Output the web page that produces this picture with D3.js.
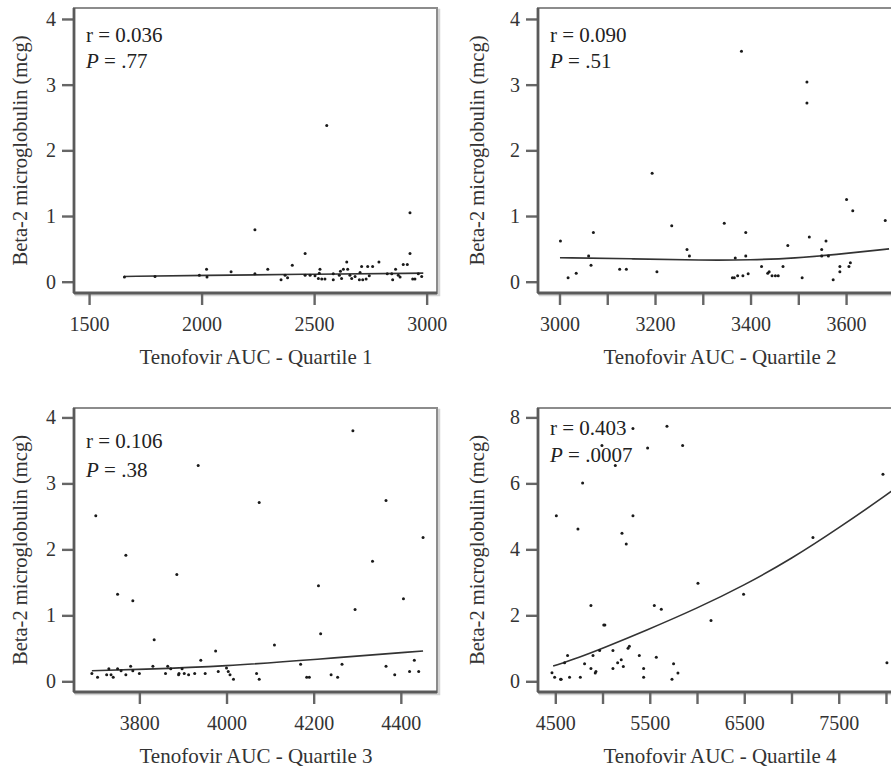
<!DOCTYPE html>
<html>
<head>
<meta charset="utf-8">
<script src="https://cdn.jsdelivr.net/npm/d3@7"></script>
<style>
  body { margin: 0; background: #fff; }
  svg { display: block; }
</style>
</head>
<body>
<div id="chart"></div>
<script>
// Quartile 1
var q1Auc = [1657,1793,1990,2022,2024,2131,2237,2237,2294,2353,2371,2382,2403,2460,2460,2482,2504,
  2519,2523,2526,2534,2548,2556,2585,2585,2612,2617,2622,2630,2645,2649,2659,2667,2682,2701,2704,
  2711,2716,2731,2738,2745,2760,2788,2825,2845,2849,2862,2874,2882,2896,2914,2926,2926,2938,2948,2963,2978];
var q1B2m = [0.07,0.08,0.10,0.19,0.07,0.15,0.79,0.12,0.19,0.03,0.10,0.06,0.25,0.43,0.10,0.10,0.09,
  0.05,0.13,0.19,0.04,0.04,2.38,0.12,0.03,0.10,0.16,0.05,0.19,0.30,0.19,0.10,0.05,0.08,0.03,0.14,
  0.23,0.03,0.04,0.23,0.09,0.23,0.30,0.12,0.12,0.03,0.19,0.10,0.07,0.26,0.26,1.05,0.43,0.04,0.04,0.12,0.08];
var q1FitX = [1655,2000,2500,2985];
var q1FitY = [0.08,0.095,0.115,0.13];

// Quartile 2
var q2Auc = [3002,3018,3035,3061,3066,3071,3126,3140,3194,3204,3235,3267,3272,3345,3362,3366,3368,3373,
  3381,3384,3390,3390,3395,3423,3436,3439,3445,3452,3458,3468,3478,3508,3518,3518,3523,3549,3549,3558,
  3563,3573,3587,3587,3601,3606,3609,3614,3682];
var q2B2m = [0.62,0.06,0.13,0.39,0.25,0.75,0.19,0.19,1.65,0.15,0.85,0.49,0.39,0.89,0.06,0.06,0.36,0.09,
  3.51,0.09,0.75,0.39,0.12,0.23,0.13,0.15,0.09,0.09,0.09,0.23,0.55,0.06,3.04,2.72,0.68,0.49,0.39,0.62,
  0.39,0.03,0.23,0.15,1.25,0.23,0.29,1.08,0.93];
var q2FitX = [3001,3150,3300,3400,3496,3574,3690];
var q2FitY = [0.365,0.35,0.325,0.33,0.36,0.41,0.50];

// Quartile 3
var q3Auc = [3691,3700,3704,3725,3730,3735,3740,3750,3750,3758,3769,3769,3780,3785,3785,3800,3831,3834,
  3860,3865,3872,3886,3890,3891,3898,3903,3913,3927,3935,3941,3951,3975,3981,4000,4004,4008,4016,4069,
  4075,4075,4110,4170,4184,4190,4211,4216,4240,4255,4265,4290,4295,4335,4366,4366,4386,4406,4420,4431,4441,4451];
var q3B2m = [0.12,2.51,0.06,0.10,0.19,0.10,0.06,1.32,0.19,0.16,1.91,0.10,0.23,1.22,0.16,0.12,0.23,0.63,
  0.12,0.23,0.19,1.62,0.10,0.12,0.19,0.12,0.10,0.12,3.27,0.32,0.12,0.46,0.15,0.20,0.15,0.10,0.03,0.12,
  2.71,0.03,0.55,0.26,0.06,0.06,1.45,0.72,0.10,0.06,0.26,3.80,1.09,1.82,2.74,0.23,0.10,1.25,0.15,0.32,0.15,2.18];
var q3FitX = [3691,3800,4000,4200,4451];
var q3FitY = [0.16,0.18,0.23,0.33,0.46];

// Quartile 4
var q4Auc = [4465,4493,4511,4556,4562,4598,4630,4651,4740,4765,4789,4810,4877,4877,4899,4923,4930,4969,
  4994,5013,5025,5110,5110,5135,5160,5198,5206,5220,5251,5270,5284,5322,5322,5389,5435,5435,5477,5548,
  5569,5622,5682,5735,5752,5798,5848,6010,6148,6493,7227,7968,8010];
var q4B2m = [0.26,0.12,5.02,0.06,0.06,0.56,0.78,0.12,4.62,0.12,6.01,0.53,2.30,0.39,0.78,0.25,0.30,0.93,
  7.15,1.71,1.71,0.93,0.39,6.54,0.56,0.65,4.49,0.45,4.16,1.00,1.06,7.66,5.02,0.78,0.39,0.12,7.07,2.30,
  0.73,2.18,7.73,0.06,0.53,0.25,7.15,2.97,1.84,2.64,4.36,6.28,0.56];
var q4FitX = [4477,4747,5000,5452,6006,6493,7005,7498,8057,8160];
var q4FitY = [0.46,0.72,1.0,1.53,2.22,2.90,3.72,4.64,5.75,5.98];

var xTitles = ["Tenofovir AUC - Quartile 1","Tenofovir AUC - Quartile 2","Tenofovir AUC - Quartile 3","Tenofovir AUC - Quartile 4"];
var rValues = ["0.036","0.090","0.106","0.403"];
var pValues = [".77",".51",".38",".0007"];
var yTitle = "Beta-2 microglobulin (mcg)";

var W = 891, H = 771;
var SERIF = "'Liberation Serif', 'DejaVu Serif', serif";

var panels = [
  {x:74, y:8, w:363, h:285, xDom:[1433,3046], yDom:[-0.172,4.167],
   xTicks:[1500,2000,2500,3000], xLab:function(d){return d;}, yTicks:[0,1,2,3,4],
   auc:q1Auc, b2m:q1B2m, fx:q1FitX, fy:q1FitY, rOff:34, pOff:60, yTitleX:27},
  {x:538, y:8, w:363, h:285, xDom:[2955,3715], yDom:[-0.172,4.167],
   xTicks:d3.range(3000,3701,100), xLab:function(d){return d%200===0?d:"";}, yTicks:[0,1,2,3,4],
   auc:q2Auc, b2m:q2B2m, fx:q2FitX, fy:q2FitY, rOff:34, pOff:60, yTitleX:484},
  {x:74, y:408, w:363, h:284, xDom:[3650,4483], yDom:[-0.162,4.143],
   xTicks:[3800,4000,4200,4400], xLab:function(d){return d;}, yTicks:[0,1,2,3,4],
   auc:q3Auc, b2m:q3B2m, fx:q3FitX, fy:q3FitY, rOff:40, pOff:69, yTitleX:27},
  {x:538, y:408, w:363, h:284, xDom:[4317,8159], yDom:[-0.325,8.285],
   xTicks:d3.range(4500,8001,500), xLab:function(d){return d%1000===500?d:"";}, yTicks:[0,2,4,6,8],
   auc:q4Auc, b2m:q4B2m, fx:q4FitX, fy:q4FitY, rOff:27, pOff:54, yTitleX:484}
];

var svg = d3.select("#chart").append("svg")
  .attr("width", W).attr("height", H)
  .attr("font-family", SERIF);

panels.forEach(function(p, i){
  var g = svg.append("g").attr("transform", "translate(" + p.x + "," + p.y + ")");
  var x = d3.scaleLinear().domain(p.xDom).range([0, p.w]);
  var y = d3.scaleLinear().domain(p.yDom).range([p.h, 0]);

  // frame shadow + frame
  g.append("rect").attr("x", 2).attr("y", 2).attr("width", p.w).attr("height", p.h)
    .attr("fill", "none").attr("stroke", "#d4d4d4").attr("stroke-width", 2.5);
  g.append("rect").attr("width", p.w).attr("height", p.h)
    .attr("fill", "#fff").attr("stroke", "#8c8c8c").attr("stroke-width", 2);

  // axes
  var ax = g.append("g").attr("transform", "translate(0," + p.h + ")")
    .call(d3.axisBottom(x).tickValues(p.xTicks).tickFormat(p.xLab).tickSize(12).tickPadding(12));
  var ay = g.append("g")
    .call(d3.axisLeft(y).tickValues(p.yTicks).tickFormat(d3.format("d")).tickSize(12).tickPadding(6));
  [ax, ay].forEach(function(a){
    a.attr("font-family", SERIF).attr("font-size", 20);
    a.select(".domain").remove();
    a.selectAll("line").attr("stroke", "#666").attr("stroke-width", 2.4);
    a.selectAll("text").attr("fill", "#333").style("font-family", SERIF).style("font-size", "20px");
  });

  // left and bottom axis lines, darker
  g.append("line").attr("x1", 0).attr("x2", 0).attr("y1", 0).attr("y2", p.h)
    .attr("stroke", "#5a5a5a").attr("stroke-width", 2.8);
  g.append("line").attr("x1", 0).attr("x2", p.w).attr("y1", p.h).attr("y2", p.h)
    .attr("stroke", "#5a5a5a").attr("stroke-width", 2.8);

  // fit line
  var fit = d3.zip(p.fx, p.fy);
  var line = d3.line().x(function(d){return x(d[0]);}).y(function(d){return y(d[1]);})
    .curve(d3.curveBasis);
  g.append("path").datum(fit).attr("d", line)
    .attr("fill", "none").attr("stroke", "#333").attr("stroke-width", 1.6);

  // points
  var pts = d3.zip(p.auc, p.b2m);
  g.selectAll("circle.pt").data(pts).enter().append("circle")
    .attr("class", "pt")
    .attr("cx", function(d){return x(d[0]);})
    .attr("cy", function(d){return y(d[1]);})
    .attr("r", 1.5)
    .attr("fill", "#1a1a1a");

  // stats text
  g.append("text").attr("x", 12).attr("y", p.rOff)
    .attr("fill", "#222").style("font-family", SERIF).style("font-size", "21px")
    .text("r = " + rValues[i]);
  var pt = g.append("text").attr("x", 12).attr("y", p.pOff)
    .attr("fill", "#222").style("font-family", SERIF).style("font-size", "21px");
  pt.append("tspan").style("font-style", "italic").text("P");
  pt.append("tspan").text(" = " + pValues[i]);

  // axis titles
  svg.append("text")
    .attr("x", p.x + 182).attr("y", p.y + p.h + 71)
    .attr("text-anchor", "middle")
    .attr("fill", "#333").style("font-family", SERIF).style("font-size", "21px")
    .text(xTitles[i]);
  svg.append("text")
    .attr("transform", "translate(" + p.yTitleX + "," + (p.y + p.h / 2) + ") rotate(-90)")
    .attr("text-anchor", "middle")
    .attr("fill", "#333").style("font-family", SERIF).style("font-size", "20.5px")
    .text(yTitle);
});
</script>
</body>
</html>
